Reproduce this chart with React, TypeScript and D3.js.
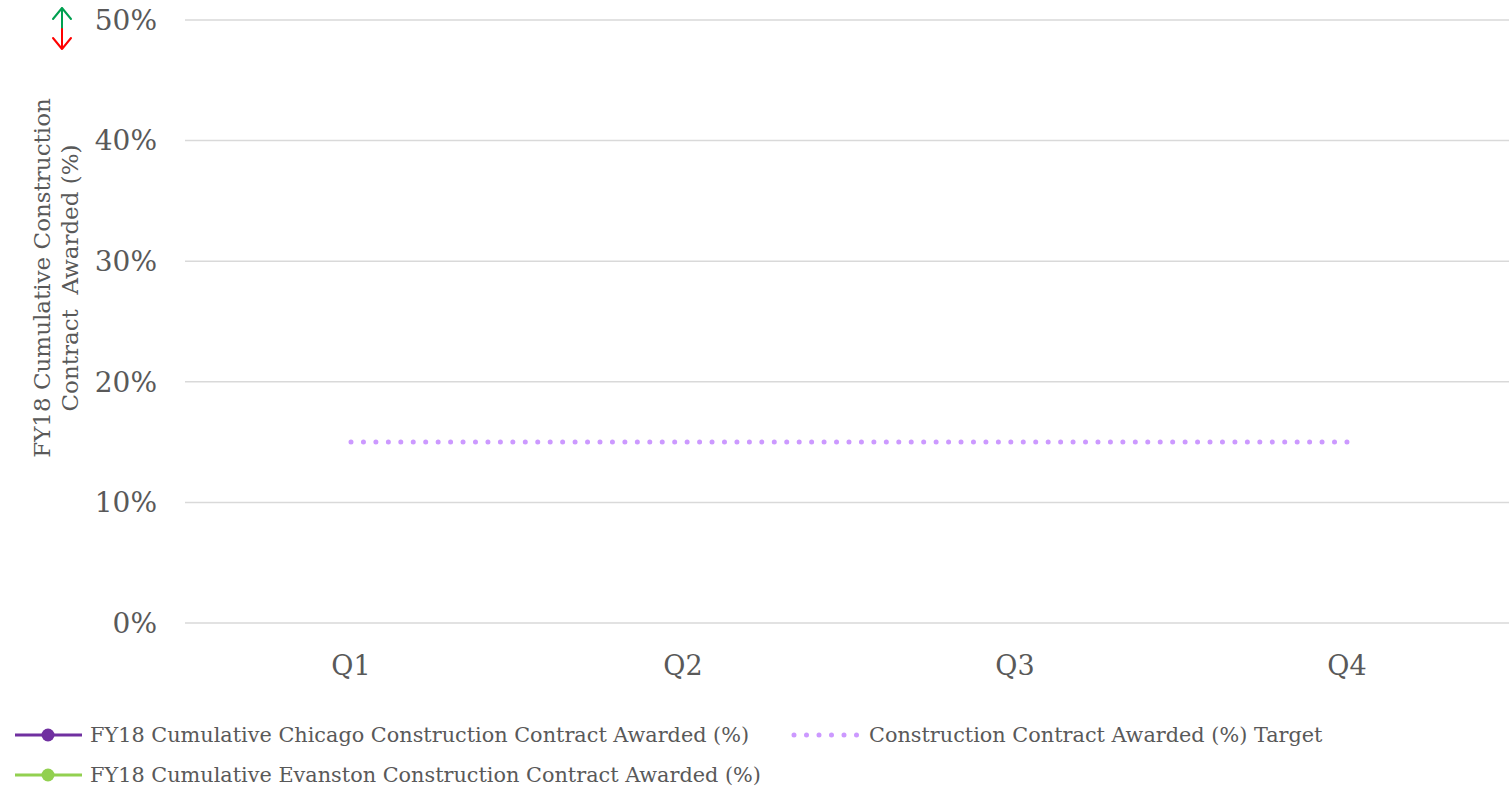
import React from "react";
import * as d3 from "d3";

// Quarters on the x axis
const quarters = ["Q1", "Q2", "Q3", "Q4"];
// Y axis tick values (fraction)
const yTicks = [0, 0.1, 0.2, 0.3, 0.4, 0.5];
// Series values per quarter (no figures reported yet)
const chicagoAwarded: (number | null)[] = [null, null, null, null];
const evanstonAwarded: (number | null)[] = [null, null, null, null];
// Target value for each quarter
const targetAwarded = [0.15, 0.15, 0.15, 0.15];

const W = 1509;
const H = 787;
const FONT = "'DejaVu Serif', 'Liberation Serif', serif";
const TEXT = "#595959";
const PURPLE = "#7030A0";
const GREEN = "#92D050";
const LILAC = "#CC99FF";

export default function App() {
  const x = d3.scaleBand<string>().domain(quarters).range([185, 1513]);
  const y = d3.scaleLinear().domain([0, 0.5]).range([623, 20]);
  const cx = (q: string) => (x(q) ?? 0) + x.bandwidth() / 2;

  const line = d3
    .line<number | null>()
    .defined((d) => d != null)
    .x((_, i) => cx(quarters[i]))
    .y((d) => y(d as number));

  const fmt = d3.format(".0%");
  // spacing of the dots so that one lands exactly on each end of the target line
  const targetLen = cx(quarters[quarters.length - 1]) - cx(quarters[0]);
  const dotGap = targetLen / 80 - 0.0005;

  return (
    <svg
      width={W}
      height={H}
      style={{ position: "absolute", left: 0, top: 0, background: "#fff" }}
      fontFamily={FONT}
    >
      {/* gridlines */}
      {yTicks.map((t) => (
        <line key={t} x1={185} x2={1509} y1={y(t)} y2={y(t)} stroke="#d9d9d9" strokeWidth={1.5} />
      ))}
      {/* y tick labels */}
      {yTicks.map((t) => (
        <text key={"l" + t} x={157} y={y(t)} dy="0.35em" textAnchor="end" fontSize={28} fill={TEXT}>
          {fmt(t)}
        </text>
      ))}
      {/* x tick labels */}
      {quarters.map((q) => (
        <text key={q} x={cx(q)} y={675} textAnchor="middle" fontSize={27} fill={TEXT}>
          {q}
        </text>
      ))}
      {/* y axis title */}
      <g transform="translate(0,278) rotate(-90)">
        <text x={0} y={50} textAnchor="middle" fontSize={23} fill={TEXT}>
          FY18 Cumulative Construction
        </text>
        <text x={0} y={78} textAnchor="middle" fontSize={23} fill={TEXT} style={{ whiteSpace: "pre" }}>
          {"Contract  Awarded (%)"}
        </text>
      </g>
      {/* up/down arrow icon */}
      <g fill="none" strokeWidth={2} strokeLinecap="round" strokeLinejoin="round">
        <path d="M62,8 L62,29 M53,19 L62,8 L71,19" stroke="#00A050" />
        <path d="M62,29 L62,49 M53,38 L62,49 L71,38" stroke="#FF0000" />
      </g>
      {/* series */}
      <path d={line(chicagoAwarded) ?? ""} fill="none" stroke={PURPLE} strokeWidth={3} />
      <path d={line(evanstonAwarded) ?? ""} fill="none" stroke={GREEN} strokeWidth={3} />
      <path
        d={line(targetAwarded) ?? ""}
        fill="none"
        stroke={LILAC}
        strokeWidth={5}
        strokeLinecap="round"
        strokeDasharray={`0 ${dotGap}`}
      />
      {/* legend */}
      <g fontSize={20.8} fill={TEXT}>
        <line x1={15} x2={82} y1={735} y2={735} stroke={PURPLE} strokeWidth={3} />
        <circle cx={48} cy={735} r={6.5} fill={PURPLE} />
        <text x={90} y={735} dy="0.35em">FY18 Cumulative Chicago Construction Contract Awarded (%)</text>
        <line x1={15} x2={82} y1={775} y2={775} stroke={GREEN} strokeWidth={3} />
        <circle cx={48} cy={775} r={6.5} fill={GREEN} />
        <text x={90} y={775} dy="0.35em">FY18 Cumulative Evanston Construction Contract Awarded (%)</text>
        <line
          x1={794}
          x2={858}
          y1={735}
          y2={735}
          stroke={LILAC}
          strokeWidth={5}
          strokeLinecap="round"
          strokeDasharray="0 12.5"
        />
        <text x={869} y={735} dy="0.35em">Construction Contract Awarded (%) Target</text>
      </g>
    </svg>
  );
}
